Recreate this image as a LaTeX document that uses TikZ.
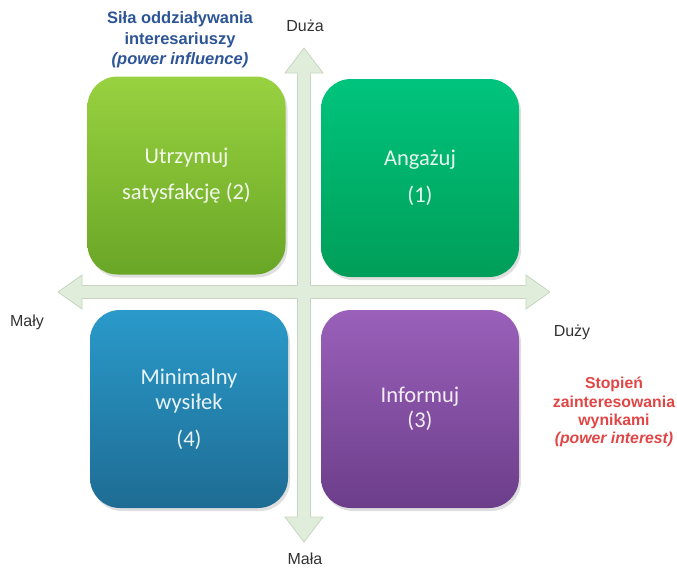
\documentclass[tikz,border=0pt]{standalone}
\usepackage{fontspec}
\setmainfont{Liberation Sans}
\newfontfamily\calibrifont{Carlito}
\usetikzlibrary{shadows}

\definecolor{axisfill}{RGB}{223,237,218}
\definecolor{axisedge}{RGB}{198,214,192}
\definecolor{infblue}{RGB}{45,85,150}
\definecolor{intred}{RGB}{224,70,70}
\definecolor{labelgray}{RGB}{50,50,50}
\definecolor{limetop}{RGB}{152,210,64}
\definecolor{limebot}{RGB}{106,166,38}
\definecolor{greentop}{RGB}{0,196,125}
\definecolor{greenbot}{RGB}{0,158,88}
\definecolor{bluetop}{RGB}{42,154,202}
\definecolor{bluebot}{RGB}{30,108,148}
\definecolor{purpletop}{RGB}{154,96,186}
\definecolor{purplebot}{RGB}{108,62,138}

\begin{document}
\begin{tikzpicture}[x=1pt,y=-1pt,
  quad/.style={rounded corners=30pt, minimum width=198pt, minimum height=198pt,
    inner sep=0pt, align=center, text=white, text opacity=0.9,
    font=\calibrifont\fontsize{22.5}{25}\selectfont,
    drop shadow={opacity=0.25, shadow xshift=2pt, shadow yshift=-3pt}},
  axislabel/.style={font=\fontsize{16}{18}\selectfont, text=labelgray},
  axistitle/.style={align=center, font=\bfseries\fontsize{16.5}{20.5}\selectfont}]

\useasboundingbox (0,0) rectangle (677,570);

% crossed double-headed axes, drawn as one outline
\filldraw[fill=axisfill, draw=axisedge, line width=0.8pt, line join=miter]
  (304,48) -- (323,73) -- (310.5,73) -- (310.5,285.5)
  -- (526,285.5) -- (526,275) -- (550,292) -- (526,309) -- (526,298.5)
  -- (310.5,298.5) -- (310.5,517) -- (323,517) -- (304,542) -- (285,517)
  -- (297.5,517) -- (297.5,298.5) -- (82,298.5) -- (82,309) -- (58,292)
  -- (82,275) -- (82,285.5) -- (297.5,285.5) -- (297.5,73) -- (285,73) -- cycle;

% quadrants
\node[quad, top color=limetop, bottom color=limebot] (satisfy) at (186.5,175.5)
  {Utrzymuj\\[11pt]satysfakcję (2)};
\node[quad, top color=greentop, bottom color=greenbot] (engage) at (420,178)
  {Angażuj\\[12pt](1)};
\node[quad, top color=bluetop, bottom color=bluebot] (minimal) at (189,409)
  {Minimalny\\wysiłek\\[12pt](4)};
\node[quad, top color=purpletop, bottom color=purplebot] (inform) at (420,409)
  {Informuj\\(3)};

% axis ends
\node[axislabel] (high) at (305,26) {Duża};
\node[axislabel] (low) at (305,559) {Mała};
\node[axislabel] (small) at (27,322) {Mały};
\node[axislabel] (big) at (572,332) {Duży};

% axis titles
\node[axistitle, text=infblue] (influence) at (180,40)
  {Siła oddziaływania\\interesariuszy\\\textit{(power influence)}};
\node[axistitle, text=intred, font=\bfseries\fontsize{15.8}{18.3}\selectfont] (interest) at (614,412)
  {Stopień\\zainteresowania\\wynikami\\\textit{(power interest)}};
\end{tikzpicture}
\end{document}
